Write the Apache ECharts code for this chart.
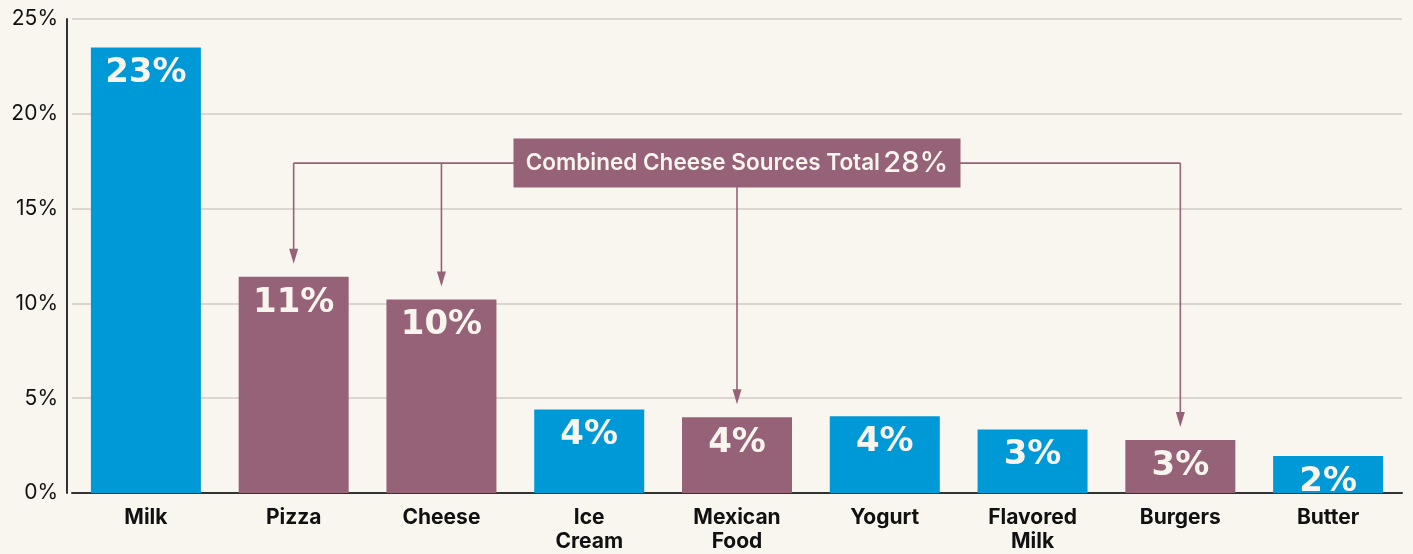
<!DOCTYPE html>
<html>
<head>
<meta charset="utf-8">
<script src="https://cdn.jsdelivr.net/npm/echarts@6/dist/echarts.min.js"></script>
<style>
html,body{margin:0;padding:0;background:#f9f5ef;}
#chart{width:1413px;height:554px;}
</style>
</head>
<body>
<div id="chart"></div>
<script>
// ---- data ----
const categories = ['Milk', 'Pizza', 'Cheese', 'Ice\nCream', 'Mexican\nFood', 'Yogurt', 'Flavored\nMilk', 'Burgers', 'Butter'];
const values = [23.5, 11.4, 10.2, 4.4, 4.0, 4.05, 3.35, 2.8, 1.95];
const valueLabels = ['23%', '11%', '10%', '4%', '4%', '4%', '3%', '3%', '2%'];
const isCheese = [false, true, true, false, true, false, false, true, false];
const yTicks = [0, 5, 10, 15, 20, 25];
const annotationText = 'Combined Cheese Sources Total';
const annotationValue = '28%';
const annotationLevel = 17.4;          // y level (in %) of the connector line
const annotationCenterIndex = 4;       // box centered over this category

const BLUE = '#0099d7';
const MAUVE = '#966278';

const chart = echarts.init(document.getElementById('chart'));
chart.setOption({
  backgroundColor: '#f9f5ef',
  animation: false,
  grid: { left: 72, right: 11, top: 19, bottom: 57, containLabel: false },
  xAxis: {
    type: 'category',
    data: categories,
    axisLine: { lineStyle: { color: '#333', width: 2 } },
    axisTick: { show: false },
    axisLabel: {
      color: '#111', fontFamily: 'Inter', fontWeight: 'bold', fontSize: 21,
      lineHeight: 24, margin: 13, interval: 0
    }
  },
  yAxis: {
    type: 'value',
    min: 0, max: 25, interval: 5,
    offset: 5,
    axisLine: { show: true, lineStyle: { color: '#333', width: 2 } },
    axisTick: { show: false },
    splitLine: { lineStyle: { color: '#d3cbc6', width: 1.5 } },
    axisLabel: {
      color: '#111', fontFamily: 'Inter', fontSize: 21, margin: 9,
      formatter: v => yTicks.includes(v) ? v + '%' : ''
    }
  },
  series: [{
    type: 'bar',
    barWidth: 110,
    data: values.map((v, i) => ({
      value: v,
      itemStyle: { color: isCheese[i] ? MAUVE : BLUE },
      label: { formatter: valueLabels[i] }
    })),
    label: {
      show: true, position: 'insideTop', distance: 9,
      color: '#f8f4ee', fontFamily: 'DejaVu Sans', fontWeight: 'bold', fontSize: 34
    }
  }]
});

// ---- annotation built from data via the chart's scales ----
function drawAnnotation() {
  const cheeseIdx = isCheese.map((c, i) => c ? i : -1).filter(i => i >= 0);
  const toPx = (i, v) => chart.convertToPixel({ gridIndex: 0 }, [i, v]);
  const lineY = toPx(0, annotationLevel)[1];
  const xs = cheeseIdx.map(i => toPx(i, 0)[0]);
  const centerX = toPx(annotationCenterIndex, 0)[0];
  const elements = [];
  const stroke = { stroke: MAUVE, lineWidth: 1.6 };
  elements.push({
    type: 'line', shape: { x1: Math.min(...xs), y1: lineY, x2: Math.max(...xs), y2: lineY },
    style: stroke, z: 10
  });
  cheeseIdx.forEach((i, k) => {
    const x = xs[k];
    const tipY = toPx(i, values[i])[1] - 13;
    elements.push({ type: 'line', shape: { x1: x, y1: lineY, x2: x, y2: tipY - 10 }, style: stroke, z: 10 });
    elements.push({
      type: 'polygon', shape: { points: [[x - 4.5, tipY - 15], [x + 4.5, tipY - 15], [x, tipY]] },
      style: { fill: MAUVE }, z: 10
    });
  });
  const boxW = 447, boxH = 49;
  elements.push({
    type: 'rect', shape: { x: centerX - boxW / 2, y: lineY - boxH / 2, width: boxW, height: boxH },
    style: { fill: MAUVE }, z: 11
  });
  elements.push({
    type: 'text', x: centerX, y: lineY, z: 12,
    style: {
      text: '{a|' + annotationText + '} {b|' + annotationValue + '}',
      align: 'center', verticalAlign: 'middle',
      rich: {
        a: { fill: '#f8f4ee', fontFamily: 'Inter', fontSize: 22.5, fontWeight: 600 },
        b: { fill: '#f8f4ee', fontFamily: 'Inter', fontSize: 29, fontWeight: 500 }
      }
    }
  });
  chart.setOption({ graphic: { elements } });
}
drawAnnotation();
</script>
</body>
</html>
